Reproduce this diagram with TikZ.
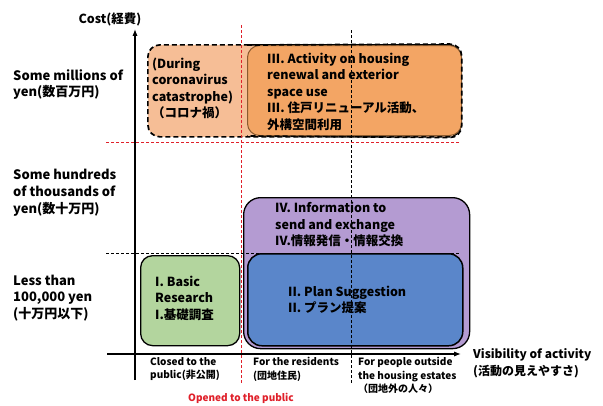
\documentclass[tikz,border=0pt]{standalone}
\usepackage{fontspec}
\setmainfont{Noto Sans CJK JP}
\usepackage{xcolor}
\usepackage{tikz}
\usetikzlibrary{arrows.meta,backgrounds,positioning}
\definecolor{VisPeach}{HTML}{F6BE96}
\definecolor{VisOrange}{HTML}{F3A564}
\definecolor{VisBrown}{HTML}{8A5A2E}
\definecolor{VisPurple}{HTML}{B49BD2}
\definecolor{VisBlue}{HTML}{5A86CA}
\definecolor{VisGreen}{HTML}{B3D59E}
\definecolor{VisRed}{HTML}{E0202A}
\tikzset{
  >=Latex,
  areabox/.style={draw=black,line width=1.3pt,rounded corners=12pt,inner sep=0pt,anchor=north west},
  covidline/.style={draw=black,line width=1.7pt,dash pattern=on 5pt off 3pt},
  boxtext/.style={align=left,inner sep=0pt,font=\fontsize{12.5}{16.5}\selectfont\bfseries},
  levellabel/.style={align=left,inner sep=0pt,anchor=west,font=\fontsize{13}{16.8}\selectfont\bfseries},
  scopelabel/.style={align=left,inner sep=0pt,anchor=north west,font=\fontsize{10}{13.5}\selectfont\bfseries},
  axis/.style={-{Latex[length=2.4mm]},line width=1.2pt},
  redsplit/.style={draw=VisRed,line width=0.8pt,dash pattern=on 3pt off 2pt},
  blacksplit/.style={draw=black,line width=0.8pt,dash pattern=on 3pt off 2pt}
}

\begin{document}
\begin{tikzpicture}[x=1pt,y=-1pt]
  \useasboundingbox[fill=white] (0,0) rectangle (603,405);

  % areas of the activities
  \node[areabox,fill=VisPeach,covidline,minimum width=313pt,minimum height=92pt] (covid) at (147,44) {};
  \node[areabox,fill=VisOrange,draw=VisBrown,line width=1pt,minimum width=214pt,minimum height=90pt] (renewal) at (247,45) {};
  \draw[covidline,rounded corners=12pt] (renewal.north west) -- (covid.north east) -- (covid.south east) -- (renewal.south west);
  \node[areabox,fill=VisPurple,rounded corners=17pt,minimum width=226pt,minimum height=151pt] (info) at (243,197) {};
  \node[areabox,fill=VisBlue,line width=1.5pt,rounded corners=14pt,minimum width=215pt,minimum height=92pt] (plan) at (247,253) {};
  \node[areabox,fill=VisGreen,minimum width=99pt,minimum height=90pt] (basic) at (140,255) {};

  \node[boxtext,anchor=west] (covidtext) at (152,88.5) {(During\\coronavirus\\catastrophe)\\（コロナ禍）};
  \node[boxtext,anchor=west] (renewaltext) at (267,91.5) {III. Activity on housing\\renewal and exterior\\space use\\III. 住戸リニューアル活動、\\外構空間利用};
  \node[boxtext,anchor=north west] (infotext) at (275,202) {IV. Information to\\send and exchange\\IV.情報発信・情報交換};
  \node[boxtext,anchor=west] (plantext) at (288,300) {II. Plan Suggestion\\II. プラン提案};
  \node[boxtext,anchor=west] (basictext) at (155,298) {I. Basic\\Research\\I.基礎調査};

  % dividing lines
  \coordinate (redtop) at (241,25);
  \coordinate (redbot) at (241,384);
  \coordinate (blacktop) at (351,30);
  \coordinate (blackbot) at (351,384);
  \coordinate (millionsL) at (106,142);
  \coordinate (millionsR) at (460,142);
  \coordinate (thousandsL) at (106,253);
  \coordinate (thousandsR) at (460,253);
  \draw[redsplit] (redtop) -- (redbot);
  \draw[blacksplit] (blacktop) -- (blackbot);
  \draw[redsplit] (millionsL) -- (millionsR);
  \draw[blacksplit] (thousandsL) -- (thousandsR);

  % axes
  \coordinate (ybot) at (135,380);
  \coordinate (ytop) at (135,29);
  \coordinate (xleft) at (107,354);
  \coordinate (xright) at (461,354);
  \draw[axis] (ybot) -- (ytop);
  \draw[axis] (xleft) -- (xright);
  \node[font=\fontsize{12.5}{16}\selectfont\bfseries,inner sep=0pt] (cost) at (110,19) {Cost(経費)};
  \node[levellabel,font=\fontsize{12}{16.5}\selectfont\bfseries] (visibility) at (473,363) {Visibility of activity\\(活動の見えやすさ)};

  % cost levels
  \node[levellabel] (millions) at (13,84.5) {Some millions of\\yen(数百万円)};
  \node[levellabel] (thousands) at (13,193) {Some hundreds\\of thousands of\\yen(数十万円)};
  \node[levellabel] (hundred) at (13,298) {Less than\\100,000 yen\\(十万円以下)};

  % visibility levels
  \node[scopelabel] (closed) at (150,357) {Closed to the\\public(非公開)};
  \node[scopelabel] (residents) at (253,357) {For the residents\\(団地住民)};
  \node[scopelabel] (outside) at (358,357) {For people outside\\the housing estates\\（団地外の人々）};
  \node[scopelabel,anchor=center,text=VisRed] (opened) at (241,398) {Opened to the public};
\end{tikzpicture}
\end{document}
